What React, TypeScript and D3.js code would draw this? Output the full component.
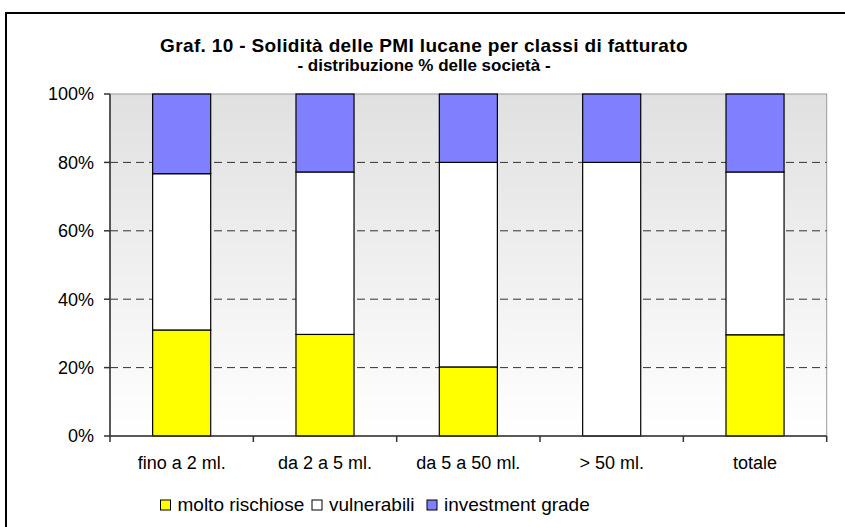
import React from "react";
import * as d3 from "d3";

const categories = ["fino a 2 ml.", "da 2 a 5 ml.", "da 5 a 50 ml.", "> 50 ml.", "totale"];
const seriesNames = ["molto rischiose", "vulnerabili", "investment grade"];
const moltoRischiose = [31.0, 29.7, 20.2, 0, 29.6];
const vulnerabili = [45.7, 47.5, 59.8, 80.0, 47.6];
const investmentGrade = [23.3, 22.8, 20.0, 20.0, 22.8];
const seriesColors = ["#FFFF00", "#FFFFFF", "#8080FF"];
const yTicks = [0, 20, 40, 60, 80, 100];
const titleLine1 = "Graf. 10 - Solidità delle PMI lucane per classi di fatturato";
const titleLine2 = "- distribuzione % delle società -";

export default function App() {
  const W = 845, H = 527;
  const left = 110, right = 826.7, top = 94, bottom = 436;
  const x = d3.scaleBand<string>().domain(categories).range([left, right]).paddingInner(0.595).paddingOuter(0.2975);
  const xb = d3.scaleBand<string>().domain(categories).range([left, right]);
  const y = d3.scaleLinear().domain([0, 100]).range([bottom, top]);
  const rows = categories.map((c, i) => ({ cat: c, a: moltoRischiose[i], b: vulnerabili[i], c2: investmentGrade[i] }));
  const stack = d3.stack<any>().keys(["a", "b", "c2"])(rows);
  const font = "'Liberation Sans', Arial, sans-serif";
  const legendItems = [
    { name: seriesNames[0], color: seriesColors[0], x: 160.5 },
    { name: seriesNames[1], color: seriesColors[1], x: 312 },
    { name: seriesNames[2], color: seriesColors[2], x: 427 },
  ];
  return (
    <svg width={W} height={H} style={{ position: "absolute", left: 0, top: 0, background: "#fff" }} fontFamily={font}>
      <defs>
        <linearGradient id="bg" x1="0" y1="0" x2="0" y2="1">
          <stop offset="0" stopColor="#e0e0e0" />
          <stop offset="1" stopColor="#ffffff" />
        </linearGradient>
      </defs>
      <rect x={6} y={13} width={860} height={540} fill="#fff" stroke="#000" strokeWidth={2} />
      <text x={424} y={52} textAnchor="middle" fontSize={19} fontWeight="bold" letterSpacing={0.35}>{titleLine1}</text>
      <text x={424} y={71} textAnchor="middle" fontSize={17} fontWeight="bold">{titleLine2}</text>
      <rect x={left} y={top} width={right - left} height={bottom - top} fill="url(#bg)" stroke="#999" strokeWidth={1} />
      {yTicks.filter(t => t > 0 && t < 100).map(t => (
        <line key={t} x1={left} x2={right} y1={y(t)} y2={y(t)} stroke="#333" strokeWidth={1} strokeDasharray="8,5" />
      ))}
      {stack.map((s, si) => (
        <g key={si} fill={seriesColors[si]} stroke="#000" strokeWidth={1.2}>
          {s.map((d: any, i: number) => (d[1] - d[0] > 0 ? (
            <rect key={i} x={x(categories[i])} width={x.bandwidth()} y={y(d[1])} height={y(d[0]) - y(d[1])} />
          ) : null))}
        </g>
      ))}
      <line x1={left} x2={left} y1={top} y2={bottom} stroke="#333" strokeWidth={1.5} />
      <line x1={left} x2={right} y1={bottom} y2={bottom} stroke="#333" strokeWidth={1.5} />
      {yTicks.map(t => (
        <g key={t}>
          <line x1={left - 6} x2={left} y1={y(t)} y2={y(t)} stroke="#333" strokeWidth={1.5} />
          <text x={left - 16} y={y(t)} dy="0.35em" textAnchor="end" fontSize={18}>{t + "%"}</text>
        </g>
      ))}
      {[...categories.map(c => xb(c) as number), right].map((v, i) => (
        <line key={i} x1={v} x2={v} y1={bottom} y2={bottom + 6} stroke="#333" strokeWidth={1.5} />
      ))}
      {categories.map(c => (
        <text key={c} x={(xb(c) as number) + xb.bandwidth() / 2} y={469} textAnchor="middle" fontSize={18}>{c}</text>
      ))}
      {legendItems.map(l => (
        <g key={l.name}>
          <rect x={l.x} y={500} width={10} height={10} fill={l.color} stroke="#000" strokeWidth={1} />
          <text x={l.x + 17} y={511} fontSize={19}>{l.name}</text>
        </g>
      ))}
    </svg>
  );
}
